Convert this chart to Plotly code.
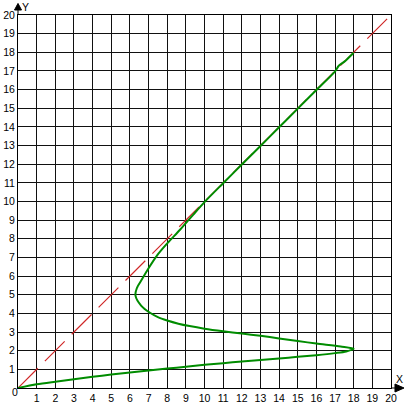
import plotly.graph_objects as go

# Axis ticks
tick_vals = list(range(1, 21))
tick_text = [str(v) for v in tick_vals]

# Diagonal reference line y = x
diag_x = [0, 20]
diag_y = [0, 20]

# Green curve
curve_x = [0, 1, 2, 3, 4, 5, 6, 7, 8, 9, 10, 11, 12, 13, 14, 15, 16, 17, 17.6, 18,
           17.3, 16, 15, 14, 13, 12, 11, 10, 9.2, 8.6, 8.0, 7.5, 7.1, 6.6, 6.3, 6.37,
           6.63, 7.0, 7.45, 8.0, 8.7, 9.4, 10, 11, 12, 13, 14, 15, 16, 17, 17.2, 17.5, 18]
curve_y = [0, 0.2, 0.34, 0.47, 0.6, 0.72, 0.83, 0.94, 1.04, 1.14, 1.24, 1.33, 1.42, 1.5, 1.58, 1.67, 1.76, 1.87, 1.96, 2.1,
           2.22, 2.38, 2.52, 2.66, 2.8, 2.92, 3.04, 3.18, 3.32, 3.45, 3.62, 3.8, 4.02, 4.42, 4.95, 5.35,
           5.8, 6.42, 7.1, 7.75, 8.5, 9.3, 9.97, 10.98, 11.98, 12.98, 13.98, 14.98, 15.98, 16.98, 17.28, 17.5, 17.98]

fig = go.Figure()
fig.add_trace(go.Scatter(x=diag_x, y=diag_y, mode="lines",
                         line=dict(color="#d02828", width=1.2, dash="28px,10px"),
                         hoverinfo="skip"))
fig.add_trace(go.Scatter(x=curve_x, y=curve_y, mode="lines",
                         line=dict(color="#008c00", width=2, shape="spline", smoothing=0.8),
                         hoverinfo="skip"))

font = dict(family="Liberation Sans, Arial, sans-serif", size=10.5, color="black")

axis_common = dict(range=[0, 20], tickvals=tick_vals, ticktext=tick_text,
                   showgrid=True, gridcolor="#111111", gridwidth=1,
                   zeroline=False, showline=True, linecolor="black", linewidth=1,
                   mirror=True, ticks="", tickfont=font, fixedrange=True)

fig.update_layout(
    width=407, height=407,
    margin=dict(l=18, r=16, t=15, b=19, autoexpand=False),
    paper_bgcolor="white", plot_bgcolor="white",
    showlegend=False,
    xaxis=dict(**axis_common),
    yaxis=dict(**axis_common),
    shapes=[
        # y-axis arrow
        dict(type="line", xref="paper", yref="paper", x0=0, x1=0, y0=1.0, y1=1.014,
             line=dict(color="black", width=1)),
        dict(type="path", xref="paper", yref="paper",
             path="M -0.0094,1.0134 L 0.0094,1.0134 L 0.0,1.031 Z",
             fillcolor="black", line=dict(color="black", width=1)),
        # x-axis arrow
        dict(type="line", xref="paper", yref="paper", x0=1.0, x1=1.011, y0=0, y1=0,
             line=dict(color="black", width=1)),
        dict(type="path", xref="paper", yref="paper",
             path="M 1.0107,-0.0107 L 1.0107,0.0107 L 1.0349,0 Z",
             fillcolor="black", line=dict(color="black", width=1)),
    ],
    annotations=[
        dict(text="Y", xref="paper", yref="paper", x=0.020, y=1.0214,
             showarrow=False, font=font, xanchor="center", yanchor="middle"),
        dict(text="X", xref="paper", yref="paper", x=1.024, y=0.024,
             showarrow=False, font=font, xanchor="center", yanchor="middle"),
        dict(text="0", xref="paper", yref="paper", x=-0.0088, y=-0.0099,
             showarrow=False, font=font, xanchor="center", yanchor="middle"),
    ],
)

fig.write_html("out.html", config={"displayModeBar": False},
               post_script="document.body.style.margin='0';document.body.style.overflow='hidden';")
